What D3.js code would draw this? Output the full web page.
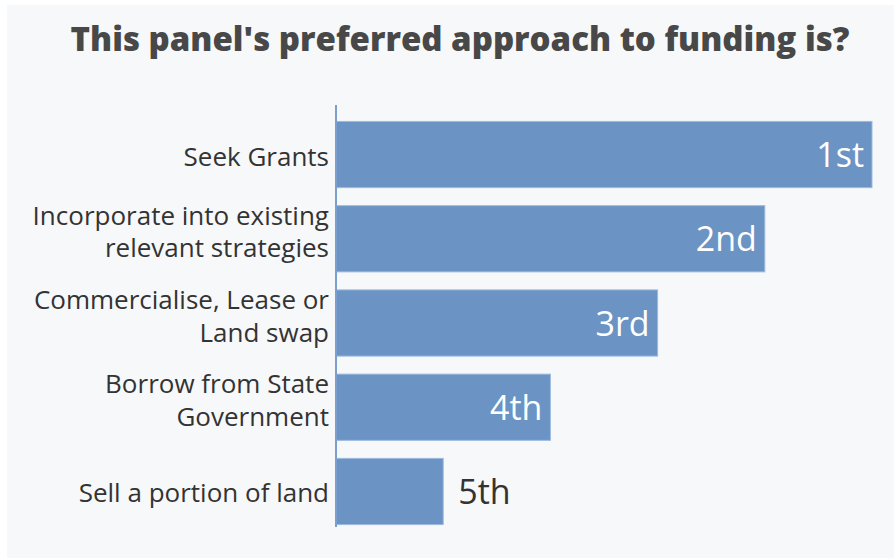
<!DOCTYPE html>
<html>
<head>
<meta charset="utf-8">
<script src="https://cdn.jsdelivr.net/npm/d3@7"></script>
<style>
  html, body { margin: 0; padding: 0; background: #ffffff; }
  svg { display: block; }
</style>
</head>
<body>
<svg id="chart" width="894" height="558"></svg>
<script>
// Funding approaches, ranked by the panel (5 = most preferred)
const categories = [
  ["Seek Grants"],
  ["Incorporate into existing", "relevant strategies"],
  ["Commercialise, Lease or", "Land swap"],
  ["Borrow from State", "Government"],
  ["Sell a portion of land"]
];
const scores = [5, 4, 3, 2, 1];
const rankLabels = ["1st", "2nd", "3rd", "4th", "5th"];
const title = "This panel's preferred approach to funding is?";

const W = 894, H = 558;
const margin = { top: 113, right: 22, bottom: 25, left: 336 };
const font = "'Open Sans', 'Source Sans Pro', sans-serif";

const svg = d3.select("#chart");

svg.append("rect")
  .attr("x", 7).attr("y", 5)
  .attr("width", W - 7).attr("height", H - 5)
  .attr("fill", "#f7f8fa");

svg.append("text")
  .attr("x", 460).attr("y", 51)
  .attr("text-anchor", "middle")
  .attr("font-family", font)
  .attr("font-weight", 800)
  .attr("font-size", 33)
  .attr("fill", "#484848")
  .text(title);

const ids = d3.range(categories.length);

const x = d3.scaleLinear()
  .domain([0, 5])
  .range([margin.left, W - margin.right]);

const y = d3.scaleBand()
  .domain(ids)
  .range([margin.top, H - margin.bottom])
  .paddingInner(0.214)
  .paddingOuter(0.1);

const g = svg.append("g");

g.selectAll("rect.bar")
  .data(ids)
  .join("rect")
  .attr("class", "bar")
  .attr("x", x(0))
  .attr("y", i => y(i))
  .attr("width", i => x(scores[i]) - x(0))
  .attr("height", y.bandwidth())
  .attr("fill", "#6b93c4")
  .attr("stroke", "#9dbade")
  .attr("stroke-width", 1);

// vertical category axis line
svg.append("line")
  .attr("x1", x(0)).attr("x2", x(0))
  .attr("y1", margin.top - 8).attr("y2", H - margin.bottom - 6)
  .attr("stroke", "#7a9ecd")
  .attr("stroke-width", 2);

// category labels, wrapped onto lines beside each bar
const lineH = 32.5;
g.selectAll("text.cat")
  .data(ids)
  .join("text")
  .attr("class", "cat")
  .attr("text-anchor", "end")
  .attr("font-family", font)
  .attr("font-size", 26)
  .attr("fill", "#333333")
  .each(function (i) {
    const lines = categories[i];
    const cy = y(i) + y.bandwidth() / 2;
    const first = cy + 11 - (lines.length - 1) * 25;
    const t = d3.select(this);
    lines.forEach((ln, k) => {
      t.append("tspan")
        .attr("x", x(0) - 7)
        .attr("y", first + k * lineH)
        .text(ln);
    });
  });

// rank labels: inside the bar when it fits, otherwise just past its end
const insideMin = 2;
g.selectAll("text.rank")
  .data(ids)
  .join("text")
  .attr("class", "rank")
  .attr("font-family", font)
  .attr("font-size", 34)
  .attr("y", i => y(i) + y.bandwidth() / 2 + 12.5)
  .attr("x", i => scores[i] >= insideMin ? x(scores[i]) - 8 : x(scores[i]) + 15)
  .attr("text-anchor", i => scores[i] >= insideMin ? "end" : "start")
  .attr("fill", i => scores[i] >= insideMin ? "#ffffff" : "#333333")
  .text(i => rankLabels[i]);
</script>
</body>
</html>
